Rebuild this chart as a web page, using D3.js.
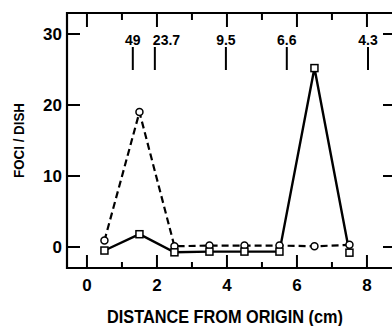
<!DOCTYPE html>
<html>
<head>
<meta charset="utf-8">
<script src="https://cdn.jsdelivr.net/npm/d3@7"></script>
<style>
  body { margin: 0; background: #fff; }
  svg { display: block; }
  text { font-family: "Liberation Sans", Arial, sans-serif; font-weight: bold; fill: #000; }
</style>
</head>
<body>
<svg id="chart"></svg>
<script>
const fractions = [0.5, 1.5, 2.5, 3.5, 4.5, 5.5, 6.5, 7.5];
const circleFoci = [0.9, 19.0, 0.1, 0.2, 0.2, 0.2, 0.1, 0.3];
const squareFoci = [-0.5, 1.8, -0.75, -0.65, -0.65, -0.65, 25.2, -0.8];

const markerPos = [1.31, 1.94, 3.97, 5.71, 8.03];
const markerLabels = ['49', '23.7', '9.5', '6.6', '4.3'];

const xTicks = [0, 2, 4, 6, 8];
const xMinorTicks = [1, 3, 5, 7];
const yTicks = [0, 10, 20, 30];

const width = 392;
const height = 326;

const svg = d3.select('#chart')
    .attr('width', width)
    .attr('height', height);

const x = d3.scaleLinear().domain([-0.57, 8.83]).range([67, 396]);
const y = d3.scaleLinear().domain([-2.96, 32.96]).range([268, 13]);

const frame = svg.append('g');

// frame lines
frame.append('path')
    .attr('d', `M${x.range()[1]},${y.range()[1]}H${x.range()[0]}V${y.range()[0]}H${x.range()[1]}V${y.range()[1]}`)
    .attr('fill', 'none')
    .attr('stroke', '#000')
    .attr('stroke-width', 2.2);

// bottom ticks (inward)
frame.selectAll('.bmaj').data(xTicks).enter().append('line')
    .attr('x1', d => x(d)).attr('x2', d => x(d))
    .attr('y1', y.range()[0]).attr('y2', y.range()[0] - 13)
    .attr('stroke', '#000').attr('stroke-width', 2);
frame.selectAll('.bmin').data(xMinorTicks).enter().append('line')
    .attr('x1', d => x(d)).attr('x2', d => x(d))
    .attr('y1', y.range()[0]).attr('y2', y.range()[0] - 6)
    .attr('stroke', '#000').attr('stroke-width', 2);

// top ticks (inward)
frame.selectAll('.tmaj').data(xTicks).enter().append('line')
    .attr('x1', d => x(d)).attr('x2', d => x(d))
    .attr('y1', y.range()[1]).attr('y2', y.range()[1] + 14)
    .attr('stroke', '#000').attr('stroke-width', 2);
frame.selectAll('.tmin').data(xMinorTicks).enter().append('line')
    .attr('x1', d => x(d)).attr('x2', d => x(d))
    .attr('y1', y.range()[1]).attr('y2', y.range()[1] + 7)
    .attr('stroke', '#000').attr('stroke-width', 2);

// left and right ticks
frame.selectAll('.lt').data(yTicks).enter().append('line')
    .attr('x1', x.range()[0]).attr('x2', x.range()[0] + 13)
    .attr('y1', d => y(d)).attr('y2', d => y(d))
    .attr('stroke', '#000').attr('stroke-width', 2);
frame.selectAll('.rt').data(yTicks).enter().append('line')
    .attr('x1', x.range()[1]).attr('x2', x.range()[1] - 13)
    .attr('y1', d => y(d)).attr('y2', d => y(d))
    .attr('stroke', '#000').attr('stroke-width', 2);

// tick labels
frame.selectAll('.xl').data(xTicks).enter().append('text')
    .attr('x', d => x(d)).attr('y', 291)
    .attr('text-anchor', 'middle')
    .attr('font-size', 17)
    .text(d => d);
frame.selectAll('.yl').data(yTicks).enter().append('text')
    .attr('x', 62).attr('y', d => y(d) + 6)
    .attr('text-anchor', 'end')
    .attr('font-size', 17)
    .text(d => d);

// axis titles
svg.append('text')
    .attr('x', 107).attr('y', 323)
    .attr('font-size', 18)
    .attr('textLength', 236)
    .attr('lengthAdjust', 'spacingAndGlyphs')
    .text('DISTANCE FROM ORIGIN (cm)');
svg.append('text')
    .attr('transform', 'translate(24,178) rotate(-90)')
    .attr('font-size', 15)
    .attr('textLength', 75)
    .attr('lengthAdjust', 'spacingAndGlyphs')
    .text('FOCI / DISH');

// molecular weight markers
const markers = svg.append('g');
markers.selectAll('line').data(markerPos).enter().append('line')
    .attr('x1', d => x(d)).attr('x2', d => x(d))
    .attr('y1', 47).attr('y2', 70)
    .attr('stroke', '#000').attr('stroke-width', 2);
markers.selectAll('text').data(markerPos).enter().append('text')
    .attr('x', (d, i) => i === 1 ? x(d) - 2 : x(d))
    .attr('y', 45)
    .attr('text-anchor', (d, i) => i === 1 ? 'start' : 'middle')
    .attr('font-size', 14)
    .text((d, i) => markerLabels[i]);

// series
const pts = (vals) => fractions.map((f, i) => [f, vals[i]]);
const line = d3.line().x(d => x(d[0])).y(d => y(d[1]));

svg.append('path')
    .attr('d', line(pts(circleFoci)))
    .attr('fill', 'none')
    .attr('stroke', '#000')
    .attr('stroke-width', 2.2)
    .attr('stroke-dasharray', '7,4');

svg.append('path')
    .attr('d', line(pts(squareFoci)))
    .attr('fill', 'none')
    .attr('stroke', '#000')
    .attr('stroke-width', 2.4);

svg.selectAll('.circ').data(pts(circleFoci)).enter().append('circle')
    .attr('cx', d => x(d[0])).attr('cy', d => y(d[1]))
    .attr('r', 3.5)
    .attr('fill', '#fff').attr('stroke', '#000').attr('stroke-width', 1.5);

svg.selectAll('.sq').data(pts(squareFoci)).enter().append('rect')
    .attr('x', d => x(d[0]) - 3.5).attr('y', d => y(d[1]) - 3.5)
    .attr('width', 7).attr('height', 7)
    .attr('fill', '#fff').attr('stroke', '#000').attr('stroke-width', 1.5);
</script>
</body>
</html>
